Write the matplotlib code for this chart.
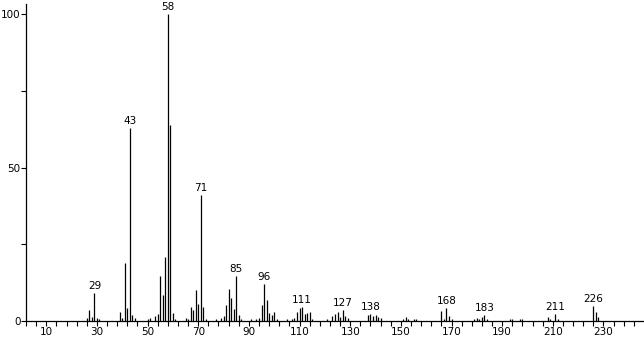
import matplotlib
matplotlib.use('Agg')
import matplotlib.pyplot as plt
import numpy as np

# m/z values and relative intensities
mz = [26, 27, 28, 29, 30, 31, 39, 40, 41, 42, 43, 44, 45, 50, 51, 53, 54, 55, 56, 57,
      58, 59, 60, 61, 65, 66, 67, 68, 69, 70, 71, 72, 73, 77, 79, 80, 81, 82, 83, 84,
      85, 86, 87, 91, 93, 94, 95, 96, 97, 98, 99, 100, 101, 105, 107, 108, 109, 110,
      111, 112, 113, 114, 115, 121, 123, 124, 125, 126, 127, 128, 129, 137, 138, 139,
      140, 141, 142, 151, 152, 153, 155, 156, 166, 167, 168, 169, 170, 179, 180, 181,
      182, 183, 184, 193, 194, 197, 198, 208, 209, 211, 212, 226, 227, 228]
intensity = [1.0, 3.6, 1.3, 9.2, 1.0, 0.8, 3.0, 1.0, 19.0, 4.2, 63.0, 2.0, 1.0, 0.5, 1.0,
             1.7, 2.3, 14.6, 8.4, 21.0, 100.0, 64.0, 2.6, 0.8, 1.0, 0.8, 4.5, 3.6, 10.0,
             5.5, 41.0, 4.5, 0.8, 0.6, 1.0, 1.5, 5.3, 10.4, 7.5, 3.9, 14.6, 2.0, 0.6, 0.6,
             0.8, 1.0, 5.3, 12.0, 6.8, 2.6, 2.0, 2.9, 0.6, 0.6, 0.8, 1.0, 3.0, 4.2, 4.5,
             2.2, 2.6, 2.9, 0.6, 0.6, 1.6, 2.3, 2.9, 1.2, 3.6, 1.6, 1.0, 1.8, 2.4, 1.6,
             2.0, 1.4, 1.0, 0.8, 1.2, 0.8, 0.8, 0.6, 3.4, 0.8, 4.2, 1.6, 0.6, 0.8, 1.0,
             0.8, 1.2, 2.0, 0.8, 0.6, 0.8, 0.6, 0.8, 1.3, 0.8, 2.3, 0.6, 4.8, 2.9, 1.2]

# peaks that get a label
labelled = [29, 43, 58, 71, 85, 96, 111, 127, 138, 168, 183, 211, 226]

xticks_major = list(range(10, 231, 20))
yticks_major = [0, 50, 100]

plt.rcParams['font.family'] = ['DejaVu Sans']
fig = plt.figure(figsize=(6.44, 3.39), dpi=100)
ax = fig.add_axes([26/644, 18/339, 1 - 26/644, 317/339])

ax.vlines(mz, 0, intensity, colors='black', linewidth=0.9)

lookup = dict(zip(mz, intensity))
for m in labelled:
    ax.annotate(str(m), (m, lookup[m]), xytext=(0, 1.5), textcoords='offset points',
                ha='center', va='bottom', fontsize=7.5, clip_on=False)

ax.set_xlim(3.2, 246)
ax.set_ylim(0, 103.3)

ax.set_xticks(xticks_major)
ax.set_xticks(np.arange(2, 246, 4), minor=True)
ax.set_yticks(yticks_major)
ax.set_yticks([25, 75], minor=True)
ax.tick_params(axis='both', which='both', direction='out', length=3.5, width=0.8,
               labelsize=7.5, pad=1)
ax.tick_params(axis='y', pad=0.5)

for side in ['top', 'right']:
    ax.spines[side].set_visible(False)
for side in ['left', 'bottom']:
    ax.spines[side].set_linewidth(0.9)

fig.savefig('out.png', dpi=100)
